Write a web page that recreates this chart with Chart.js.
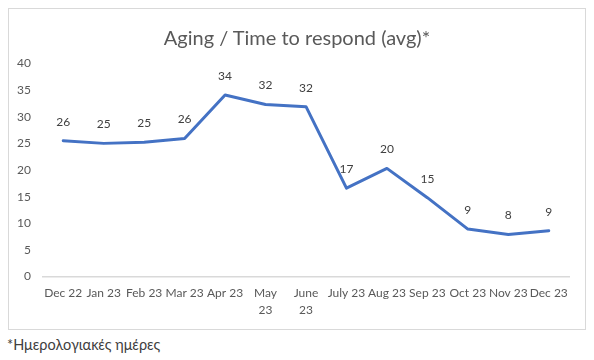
<!DOCTYPE html>
<html>
<head>
<meta charset="utf-8">
<script src="https://cdn.jsdelivr.net/npm/chart.js@4"></script>
<style>
  html, body { margin: 0; padding: 0; background: #ffffff; }
  body { width: 594px; height: 360px; position: relative; overflow: hidden; font-family: Lato, "Open Sans", sans-serif; }
  #box { position: absolute; left: 8px; top: 8px; width: 576px; height: 320px; border: 1px solid #d9d9d9; }
  #wrap { position: absolute; left: 0; top: 0; width: 576px; height: 320px; }
  #title { position: absolute; left: 0; top: 16px; width: 576px; text-align: center; font-size: 20px; line-height: 24px; color: #595959; white-space: nowrap; }
  #note { position: absolute; left: 7px; top: 336px; font-size: 14.5px; color: #404040; white-space: nowrap; }
</style>
</head>
<body>
<div id="box"><div id="wrap"><canvas id="c"></canvas></div><div id="title"></div></div>
<div id="note">*Ημερολογιακές ημέρες</div>
<script>
const chartTitle = "Aging / Time to respond (avg)*";
const categories = [
  "Dec 22", "Jan 23", "Feb 23", "Mar 23", "Apr 23", ["May", "23"], ["June", "23"],
  "July 23", "Aug 23", "Sep 23", "Oct 23", "Nov 23", "Dec 23"
];
const avgDays = [25.5, 25.0, 25.2, 25.9, 34.1, 32.3, 31.9, 16.6, 20.3, 14.8, 8.9, 7.9, 8.6];
const yTickMin = 0;
const yTickMax = 40;
const yTickStep = 5;

document.getElementById('title').textContent = chartTitle;

const FONT = "Lato, 'Open Sans', sans-serif";

const valueLabels = {
  id: 'valueLabels',
  afterDatasetsDraw(chart) {
    const ctx = chart.ctx;
    const meta = chart.getDatasetMeta(0);
    ctx.save();
    ctx.font = "12px " + FONT;
    ctx.fillStyle = "#404040";
    ctx.textAlign = "center";
    ctx.textBaseline = "middle";
    meta.data.forEach((pt, i) => {
      const p = pt.getProps(['x', 'y'], true);
      ctx.fillText(String(Math.round(avgDays[i])), p.x, p.y - 19);
    });
    ctx.restore();
  }
};

new Chart(document.getElementById('c'), {
  type: 'line',
  data: {
    labels: categories,
    datasets: [{
      data: avgDays,
      borderColor: '#4472C4',
      borderWidth: 3,
      pointRadius: 0,
      pointHoverRadius: 0,
      tension: 0,
      borderJoinStyle: 'round',
      borderCapStyle: 'round',
      fill: false
    }]
  },
  options: {
    responsive: true,
    maintainAspectRatio: false,
    animation: false,
    devicePixelRatio: 1,
    layout: { padding: { left: 0, right: 16, top: 54.5, bottom: 0 } },
    plugins: {
      legend: { display: false },
      tooltip: { enabled: false },
      title: { display: false }
    },
    scales: {
      x: {
        offset: true,
        grid: { display: false, drawTicks: false },
        border: { display: true, color: '#d9d9d9', width: 1.5 },
        ticks: {
          autoSkip: false, maxRotation: 0, minRotation: 0,
          color: '#595959',
          padding: 8,
          font: { family: FONT, size: 12, lineHeight: 1.4 }
        },
        afterFit(s) { s.height = 52.5; }
      },
      y: {
        min: yTickMin, max: yTickMax,
        grid: { display: false, drawTicks: false },
        border: { display: false },
        ticks: {
          stepSize: yTickStep,
          color: '#595959',
          padding: 12,
          font: { family: FONT, size: 12 }
        },
        afterFit(s) { s.width = 34; }
      }
    }
  },
  plugins: [valueLabels]
});
</script>
</body>
</html>
